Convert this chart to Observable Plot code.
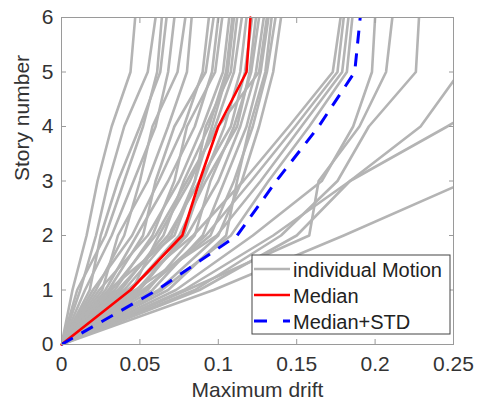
<!DOCTYPE html>
<html><head><meta charset="utf-8">
<script src="https://cdn.jsdelivr.net/npm/d3@7"></script>
<script src="https://cdn.jsdelivr.net/npm/@observablehq/plot@0.6"></script>
<style>body{margin:0;background:#fff} svg{display:block}</style>
</head><body><div id="chart"></div>
<script>
const stories = [0, 1, 2, 3, 4, 5, 6];
const motions = [
 [0, .007, .016, .023, .032, .044, .047],
 [0, .012, .022, .030, .040, .055, .060],
 [0, .010, .028, .040, .052, .061, .064],
 [0, .018, .025, .036, .050, .063, .067],
 [0, .015, .032, .046, .060, .068, .072],
 [0, .022, .040, .050, .058, .074, .079],
 [0, .026, .036, .055, .068, .080, .083],
 [0, .020, .045, .062, .078, .090, .094],
 [0, .030, .052, .060, .072, .092, .097],
 [0, .028, .048, .068, .085, .096, .100],
 [0, .034, .058, .072, .080, .098, .1025],
 [0, .024, .055, .075, .090, .103, .107],
 [0, .038, .065, .078, .094, .105, .109],
 [0, .040, .070, .085, .092, .108, .112],
 [0, .045, .062, .082, .098, .110, .115],
 [0, .050, .078, .090, .104, .114, .118],
 [0, .036, .068, .088, .108, .117, .1216],
 [0, .055, .085, .095, .110, .121, .126],
 [0, .048, .080, .100, .114, .124, .129],
 [0, .058, .090, .104, .118, .127, .132],
 [0, .052, .095, .110, .122, .131, .1365],
 [0, .062, .100, .115, .126, .135, .140],
 [0, .032, .060, .080, .100, .126, .131],
 [0, .044, .075, .092, .112, .120, .124],
 [0, .030, .072, .085, .096, .106, .110],
 [0, .068, .105, .112, .120, .130, .134],
 [0, .042, .084, .116, .145, .173, .178],
 [0, .053, .092, .121, .149, .176, .180],
 [0, .047, .099, .127, .153, .179, .183],
 [0, .064, .108, .132, .158, .182, .1855],
 [0, .073, .122, .166, .186, .198, .200],
 [0, .080, .158, .164, .190, .207, .211],
 [0, .085, .140, .176, .196, .226, .228],
 [0, .088, .150, .184, .229, .254, .262],
 [0, .078, .135, .184, .246, .305, .330],
 [0, .097, .180, .259, .330, .400, .450]
];
const median = [0, .044, .077, .088, .100, .118, .1205];
const medianPlusStd = [0, .061, .112, .137, .164, .187, .1905];
const xTicks = [0, 0.05, 0.1, 0.15, 0.2, 0.25];
const xTickLabels = ["0", "0.05", "0.1", "0.15", "0.2", "0.25"];
const yTicks = [0, 1, 2, 3, 4, 5, 6];
const yTickLabels = ["0", "1", "2", "3", "4", "5", "6"];
const legendLabels = ["individual Motion", "Median", "Median+STD"];
const xLabel = "Maximum drift";
const yLabel = "Story number";

const greyData = motions.flatMap((m, id) => m.map((d, i) => ({id, story: stories[i], drift: d})));
const medData = median.map((d, i) => ({story: stories[i], drift: d}));
const stdData = medianPlusStd.map((d, i) => ({story: stories[i], drift: d}));

const GREY = "#b4b4b4", RED = "#ff0000", BLUE = "#0000ff", AXIS = "#9a9a9a", TXT = "#333";
const FONT = "Liberation Sans, Arial, Helvetica, sans-serif";

const plot = Plot.plot({
  width: 483, height: 407,
  marginLeft: 61, marginRight: 30, marginTop: 17, marginBottom: 63,
  style: {fontFamily: FONT, fontSize: "21px", color: TXT, background: "#fff"},
  x: {domain: [0, 0.25], label: null},
  y: {domain: [0, 6], label: null},
  marks: [
    Plot.line(greyData, {x: "drift", y: "story", z: "id", stroke: GREY, strokeWidth: 2.6, clip: true}),
    Plot.line(medData, {x: "drift", y: "story", stroke: RED, strokeWidth: 2.6}),
    Plot.line(stdData, {x: "drift", y: "story", stroke: BLUE, strokeWidth: 3, strokeDasharray: "13,10", strokeLinecap: "butt"}),
    Plot.frame({stroke: AXIS, strokeWidth: 1}),
    Plot.axisX({anchor: "bottom", ticks: xTicks, tickSize: -5, tickFormat: () => "", stroke: AXIS, label: null}),
    Plot.axisX({anchor: "top", ticks: xTicks, tickSize: -5, tickFormat: () => "", stroke: AXIS, label: null}),
    Plot.axisY({anchor: "left", ticks: yTicks, tickSize: -5, tickFormat: () => "", stroke: AXIS, label: null}),
    Plot.axisY({anchor: "right", ticks: yTicks, tickSize: -5, tickFormat: () => "", stroke: AXIS, label: null}),
    Plot.axisX({anchor: "bottom", ticks: xTicks, tickSize: 0, tickPadding: 12, tickFormat: (d, i) => xTickLabels[i], fill: TXT, label: null}),
    Plot.axisY({anchor: "left", ticks: yTicks, tickSize: 0, tickPadding: 8, tickFormat: (d, i) => yTickLabels[i], fill: TXT, label: null}),
    Plot.text([xLabel], {frameAnchor: "bottom", dy: 52, text: d => d, fill: TXT, fontSize: 21}),
    Plot.text([yLabel], {frameAnchor: "left", dx: -39, rotate: -90, text: d => d, fill: TXT, fontSize: 21})
  ]
});

document.getElementById("chart").appendChild(plot);

// Legend box in the lower right of the axes
const svg = d3.select(plot);
const lg = svg.append("g").attr("transform", "translate(252,255)")
  .attr("font-family", FONT).attr("font-size", 20).attr("text-anchor", "start");
lg.append("rect").attr("width", 198).attr("height", 79).attr("fill", "#fff").attr("stroke", "#444").attr("stroke-width", 1);
const styles = [
  {stroke: GREY, w: 2.6, dash: null},
  {stroke: RED, w: 2.6, dash: null},
  {stroke: BLUE, w: 3, dash: "13,16"}
];
legendLabels.forEach((lab, i) => {
  const y = 14 + i * 26;
  lg.append("line").attr("x1", 2).attr("x2", 38).attr("y1", y).attr("y2", y)
    .attr("stroke", styles[i].stroke).attr("stroke-width", styles[i].w)
    .attr("stroke-dasharray", styles[i].dash);
  lg.append("text").attr("x", 41).attr("y", y + 7.5).attr("fill", "#222")
    .attr("text-anchor", "start").text(lab);
});
</script></body></html>
